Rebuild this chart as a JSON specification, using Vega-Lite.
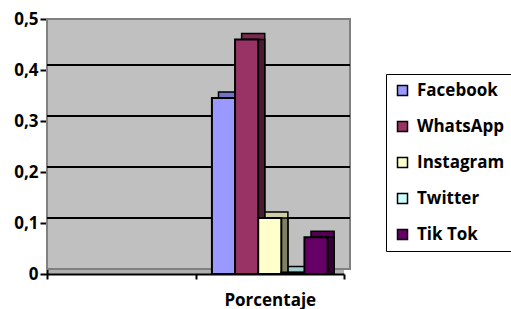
{
  "$schema": "https://vega.github.io/schema/vega-lite/v6.json",
  "autosize": {"type": "none"},
  "width": 297,
  "height": 255,
  "padding": {"left": 47, "top": 19, "right": 167, "bottom": 35},
  "background": "white",
  "config": {
    "view": {"fill": "#b0b0b0", "stroke": null},
    "font": "Open Sans",
    "axis": {"labelFont": "Open Sans", "labelFontWeight": "bold", "labelFontSize": 17, "labelColor": "black", "domainColor": "black", "domainWidth": 2, "tickColor": "black", "tickWidth": 2, "title": null}
  },
  "datasets": {
    "redes": [
      {"categoria": "Porcentaje", "red": "Facebook", "valor": 0.345},
      {"categoria": "Porcentaje", "red": "WhatsApp", "valor": 0.46},
      {"categoria": "Porcentaje", "red": "Instagram", "valor": 0.11},
      {"categoria": "Porcentaje", "red": "Twitter", "valor": 0.003},
      {"categoria": "Porcentaje", "red": "Tik Tok", "valor": 0.072}
    ],
    "grid": [{"nivel": 0.1}, {"nivel": 0.2}, {"nivel": 0.3}, {"nivel": 0.4}],
    "pared": [{"pared": "fondo"}]
  },
  "layer": [
    {
      "data": {"name": "pared"},
      "mark": {"type": "rect", "fill": "#c0c0c0", "stroke": "#808080", "strokeWidth": 2, "xOffset": 6, "yOffset": -5},
      "encoding": {
        "y": {"datum": 0, "type": "quantitative", "scale": {"domain": [0, 0.5], "nice": false}, "axis": {"values": [0, 0.1, 0.2, 0.3, 0.4, 0.5], "labelExpr": "datum.value == 0 ? '0' : replace(format(datum.value, '.1f'), '.', ',')", "tickSize": 7, "labelPadding": 2, "grid": false}},
        "y2": {"datum": 0.5}
      }
    },
    {
      "data": {"name": "grid"},
      "mark": {"type": "rule", "color": "black", "strokeWidth": 2, "xOffset": 6, "yOffset": -5},
      "encoding": {"y": {"field": "nivel", "type": "quantitative"}}
    },
    {
      "data": {"name": "redes"},
      "mark": {"type": "bar", "stroke": "black", "strokeWidth": 1.5, "yOffset": -6, "y2Offset": 0},
      "encoding": {
        "x": {"field": "categoria", "type": "nominal", "scale": {"domain": ["_", "Porcentaje"], "paddingInner": 0, "paddingOuter": 0}, "axis": {"labelExpr": "datum.value == '_' ? '' : datum.value", "labelAngle": 0, "tickBand": "extent", "tickSize": 5, "labelPadding": 13}},
        "xOffset": {"field": "red", "type": "nominal", "scale": {"domain": ["Facebook", "WhatsApp", "Instagram", "Twitter", "Tik Tok"], "paddingInner": 0, "paddingOuter": 0.71, "align": 0.7}},
        "y": {"field": "valor", "type": "quantitative"},
        "y2": {"datum": 0},
        "color": {"field": "red", "type": "nominal", "scale": {"domain": ["Facebook", "WhatsApp", "Instagram", "Twitter", "Tik Tok"], "range": ["#7373c6", "#7a2952", "#cfcfa3", "#a3cccc", "#520052"]}, "legend": null}
      }
    },
    {
      "data": {"name": "redes"},
      "mark": {"type": "bar", "stroke": "black", "strokeWidth": 1.5},
      "encoding": {
        "x": {"field": "categoria", "type": "nominal"},
        "xOffset": {"field": "red", "type": "nominal", "scale": {"domain": ["Facebook", "WhatsApp", "Instagram", "Twitter", "Tik Tok"], "paddingInner": 0, "paddingOuter": 0.71, "align": 0.7}},
        "y": {"field": "valor", "type": "quantitative"},
        "color": {"field": "red", "type": "nominal", "scale": {"domain": ["Facebook", "WhatsApp", "Instagram", "Twitter", "Tik Tok"], "range": ["#4d4d80", "#4d1a33", "#808066", "#668080", "#330033"]}, "legend": null}
      }
    },
    {
      "data": {"name": "redes"},
      "mark": {"type": "bar", "stroke": "black", "strokeWidth": 2},
      "encoding": {
        "x": {"field": "categoria", "type": "nominal"},
        "xOffset": {"field": "red", "type": "nominal", "scale": {"domain": ["Facebook", "WhatsApp", "Instagram", "Twitter", "Tik Tok"], "paddingInner": 0, "paddingOuter": 0.71, "align": 0.5}},
        "y": {"field": "valor", "type": "quantitative"},
        "color": {"field": "red", "type": "nominal", "scale": {"domain": ["Facebook", "WhatsApp", "Instagram", "Twitter", "Tik Tok"], "range": ["#9999ff", "#993366", "#ffffcc", "#ccffff", "#660066"]},
          "legend": {"title": null, "orient": "none", "legendX": 339, "legendY": 55, "padding": 8, "strokeColor": "black", "symbolType": "square", "symbolSize": 100, "symbolStrokeColor": "black", "symbolStrokeWidth": 1.5, "labelFont": "Open Sans", "labelFontWeight": "bold", "labelFontSize": 17, "labelColor": "black", "labelOffset": 6, "rowPadding": 18}}
      }
    }
  ],
  "resolve": {"scale": {"color": "independent", "xOffset": "independent"}}
}
